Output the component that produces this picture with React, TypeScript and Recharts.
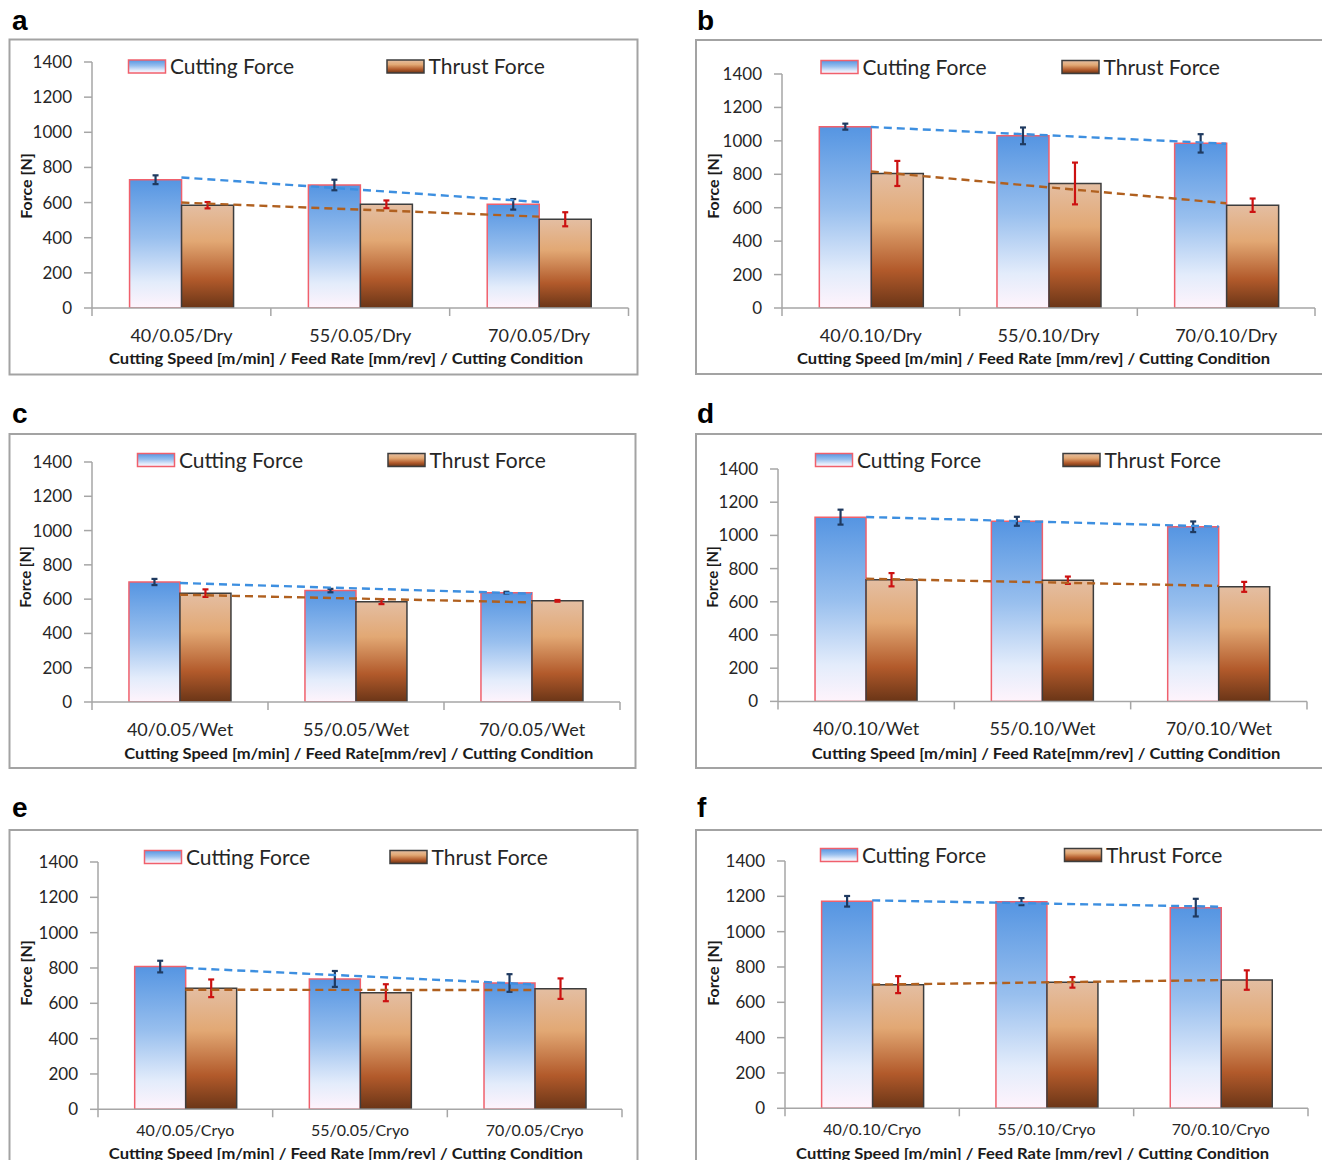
import React from 'react';
import { ComposedChart, Bar, Line, XAxis, YAxis, ErrorBar } from 'recharts';

// ---------- DATA ----------
const yTicks = [0, 200, 400, 600, 800, 1000, 1200, 1400];
const seriesNames = ['Cutting Force', 'Thrust Force'];

const categoriesA = ['40/0.05/Dry', '55/0.05/Dry', '70/0.05/Dry'];
const cuttingA = [730, 700, 590];
const cuttingErrA = [25, 30, 30];
const thrustA = [585, 590, 505];
const thrustErrA = [18, 22, 40];
const cuttingTrendA = [743, null, 603];
const thrustTrendA = [600, null, 520];

const categoriesB = ['40/0.10/Dry', '55/0.10/Dry', '70/0.10/Dry'];
const cuttingB = [1085, 1030, 985];
const cuttingErrB = [18, 50, 55];
const thrustB = [805, 745, 615];
const thrustErrB = [75, 125, 40];
const cuttingTrendB = [1083, null, 983];
const thrustTrendB = [817, null, 627];

const categoriesC = ['40/0.05/Wet', '55/0.05/Wet', '70/0.05/Wet'];
const cuttingC = [700, 650, 638];
const cuttingErrC = [18, 10, 5];
const thrustC = [635, 585, 590];
const thrustErrC = [22, 14, 5];
const cuttingTrendC = [694, null, 632];
const thrustTrendC = [626, null, 581];

const categoriesD = ['40/0.10/Wet', '55/0.10/Wet', '70/0.10/Wet'];
const cuttingD = [1110, 1085, 1052];
const cuttingErrD = [45, 27, 32];
const thrustD = [733, 730, 690];
const thrustErrD = [40, 22, 30];
const cuttingTrendD = [1111, null, 1053];
const thrustTrendD = [739, null, 696];

const categoriesE = ['40/0.05/Cryo', '55/0.05/Cryo', '70/0.05/Cryo'];
const cuttingE = [808, 738, 715];
const cuttingErrE = [33, 45, 50];
const thrustE = [685, 660, 683];
const thrustErrE = [50, 48, 58];
const cuttingTrendE = [800, null, 707];
const thrustTrendE = [677, null, 675];

const categoriesF = ['40/0.10/Cryo', '55/0.10/Cryo', '70/0.10/Cryo'];
const cuttingF = [1172, 1170, 1136];
const cuttingErrF = [30, 20, 50];
const thrustF = [700, 713, 726];
const thrustErrF = [48, 30, 55];
const cuttingTrendF = [1177, null, 1141];
const thrustTrendF = [700, null, 726];

const titleSpaced = 'Cutting Speed [m/min] / Feed Rate [mm/rev] / Cutting Condition';
const titleTight = 'Cutting Speed [m/min] / Feed Rate[mm/rev] / Cutting Condition';
const yTitle = 'Force [N]';

// ---------- LAYOUT ----------
const FONT = 'Lato, "Open Sans", sans-serif';

const panels = [
  {
    id: 'a', cats: categoriesA, cut: cuttingA, cutErr: cuttingErrA, thr: thrustA, thrErr: thrustErrA,
    cutTrend: cuttingTrendA, thrTrend: thrustTrendA, xTitle: titleSpaced,
    plot: { l: 91.5, t: 62, r: 628, b: 308 },
    box: { x: 9.5, y: 39.5, w: 628, h: 335 },
    letter: { x: 12, y: 30 },
    legend: { cutX: 128.5, thrX: 387, y: 60 },
    yT: { x: 25, y: 186, size: 16 },
    xT: { x: 346, y: 363.5, w: 474 },
    xTick: { size: 18, base: 34 },
  },
  {
    id: 'b', cats: categoriesB, cut: cuttingB, cutErr: cuttingErrB, thr: thrustB, thrErr: thrustErrB,
    cutTrend: cuttingTrendB, thrTrend: thrustTrendB, xTitle: titleSpaced,
    plot: { l: 781.5, t: 74, r: 1314.5, b: 308 },
    box: { x: 696, y: 40, w: 640, h: 334 },
    letter: { x: 697, y: 30 },
    legend: { cutX: 821, thrX: 1062, y: 60.5 },
    yT: { x: 712.5, y: 186, size: 16 },
    xT: { x: 1033.5, y: 363.5, w: 473 },
    xTick: { size: 18, base: 34 },
  },
  {
    id: 'c', cats: categoriesC, cut: cuttingC, cutErr: cuttingErrC, thr: thrustC, thrErr: thrustErrC,
    cutTrend: cuttingTrendC, thrTrend: thrustTrendC, xTitle: titleTight,
    plot: { l: 91.5, t: 461.7, r: 619.5, b: 701.7 },
    box: { x: 9.5, y: 434, w: 626, h: 334 },
    letter: { x: 12, y: 423 },
    legend: { cutX: 137.5, thrX: 388, y: 453.5 },
    yT: { x: 24.5, y: 577, size: 15 },
    xT: { x: 358.8, y: 759, w: 469 },
    xTick: { size: 18, base: 33.5 },
  },
  {
    id: 'd', cats: categoriesD, cut: cuttingD, cutErr: cuttingErrD, thr: thrustD, thrErr: thrustErrD,
    cutTrend: cuttingTrendD, thrTrend: thrustTrendD, xTitle: titleTight,
    plot: { l: 777.5, t: 469.3, r: 1306.5, b: 701.7 },
    box: { x: 696, y: 434, w: 640, h: 334 },
    letter: { x: 697, y: 423 },
    legend: { cutX: 815.5, thrX: 1063, y: 453.5 },
    yT: { x: 711.5, y: 577, size: 15 },
    xT: { x: 1046, y: 759, w: 468.5 },
    xTick: { size: 18, base: 33.5 },
  },
  {
    id: 'e', cats: categoriesE, cut: cuttingE, cutErr: cuttingErrE, thr: thrustE, thrErr: thrustErrE,
    cutTrend: cuttingTrendE, thrTrend: thrustTrendE, xTitle: titleSpaced,
    plot: { l: 98, t: 861.7, r: 622, b: 1109 },
    box: { x: 9.5, y: 830, w: 628, h: 360 },
    letter: { x: 12, y: 816.7 },
    legend: { cutX: 144.5, thrX: 390, y: 850.5 },
    yT: { x: 25, y: 973, size: 16 },
    xT: { x: 345.8, y: 1158.5, w: 474 },
    xTick: { size: 16, base: 26.5 },
  },
  {
    id: 'f', cats: categoriesF, cut: cuttingF, cutErr: cuttingErrF, thr: thrustF, thrErr: thrustErrF,
    cutTrend: cuttingTrendF, thrTrend: thrustTrendF, xTitle: titleSpaced,
    plot: { l: 785, t: 861, r: 1308, b: 1108.3 },
    box: { x: 696, y: 830, w: 640, h: 360 },
    letter: { x: 697, y: 816.7 },
    legend: { cutX: 820.5, thrX: 1064.5, y: 848.5 },
    yT: { x: 712.5, y: 973, size: 16 },
    xT: { x: 1032.6, y: 1158.5, w: 473 },
    xTick: { size: 16, base: 26.5 },
  },
];

const CUT_STROKE = '#f0606c';
const THR_STROKE = '#3d3d3d';
const AXIS = '#a6a6a6';
const TEXT = '#262626';

function Gradients({ id }: { id: string }) {
  return (
    <defs>
      <linearGradient id={`cutGrad${id}`} x1="0" y1="0" x2="0" y2="1">
        <stop offset="0" stopColor="#5595e2" />
        <stop offset="0.45" stopColor="#98bfee" />
        <stop offset="0.8" stopColor="#e3ecfb" />
        <stop offset="1" stopColor="#fff4fc" />
      </linearGradient>
      <linearGradient id={`thrGrad${id}`} x1="0" y1="0" x2="0" y2="1">
        <stop offset="0" stopColor="#e4bea2" />
        <stop offset="0.35" stopColor="#e2a874" />
        <stop offset="0.72" stopColor="#b25a2b" />
        <stop offset="1" stopColor="#6a3517" />
      </linearGradient>
    </defs>
  );
}

// Category tick: label at the category centre plus Excel-style tick marks
// on the category boundaries (half a band either side of the centre).
function CategoryTick(props: any) {
  const { x, y, payload, index, visibleTicksCount, fontSize, base, fallbackHalf } = props;
  const half = payload && typeof payload.offset === 'number' && payload.offset > 0 ? payload.offset : fallbackHalf;
  const isLast = index === (visibleTicksCount ?? 3) - 1;
  return (
    <g>
      <line x1={x - half} x2={x - half} y1={y} y2={y + 8} stroke={AXIS} strokeWidth={1.5} />
      {isLast && <line x1={x + half} x2={x + half} y1={y} y2={y + 8} stroke={AXIS} strokeWidth={1.5} />}
      <text x={x} y={y + base} textAnchor="middle" fontSize={fontSize} fontFamily={FONT} fill={TEXT}>
        {payload.value}
      </text>
    </g>
  );
}

function Panel({ p }: { p: any }) {
  const data = p.cats.map((c: string, i: number) => ({
    cat: c,
    cut: p.cut[i],
    cutErr: p.cutErr[i],
    thr: p.thr[i],
    thrErr: p.thrErr[i],
    cutTrend: p.cutTrend[i],
    thrTrend: p.thrTrend[i],
  }));
  const padL = 80, padT = 10, padR = 10, padB = 50;
  const yAxisW = 60;
  const catH = 40;
  const left = p.plot.l - padL;
  const top = p.plot.t - padT;
  const width = p.plot.r - p.plot.l + padL + padR;
  const height = p.plot.b - p.plot.t + padT + padB;
  const fallbackHalf = (p.plot.r - p.plot.l) / p.cats.length / 2;
  return (
    <div style={{ position: 'absolute', left, top, width, height }}>
      <ComposedChart
        width={width}
        height={height}
        data={data}
        margin={{ top: padT, right: padR, left: padL - yAxisW, bottom: padB - catH }}
        barCategoryGap="21%"
        barGap={0}
      >
        <Gradients id={p.id} />
        <XAxis
          dataKey="cat"
          type="category"
          axisLine={{ stroke: AXIS, strokeWidth: 1.5 }}
          tickLine={false}
          tickSize={0}
          tickMargin={0}
          height={catH}
          interval={0}
          tick={<CategoryTick fontSize={p.xTick.size} base={p.xTick.base} fallbackHalf={fallbackHalf} />}
        />
        <YAxis
          type="number"
          domain={[0, 1400]}
          ticks={yTicks}
          interval={0}
          allowDataOverflow
          width={yAxisW}
          tickSize={8}
          tickMargin={12}
          axisLine={{ stroke: AXIS, strokeWidth: 1.5 }}
          tickLine={{ stroke: AXIS, strokeWidth: 1.5 }}
          tick={{ fill: TEXT, fontSize: 17, fontFamily: FONT }}
        />
        <Bar
          dataKey="cut"
          name={seriesNames[0]}
          fill={`url(#cutGrad${p.id})`}
          stroke={CUT_STROKE}
          strokeWidth={1.5}
          isAnimationActive={false}
        >
          <ErrorBar dataKey="cutErr" width={3} stroke="#1f3a60" strokeWidth={2.2} />
        </Bar>
        <Bar
          dataKey="thr"
          name={seriesNames[1]}
          fill={`url(#thrGrad${p.id})`}
          stroke={THR_STROKE}
          strokeWidth={1.5}
          isAnimationActive={false}
        >
          <ErrorBar dataKey="thrErr" width={3} stroke="#cc1111" strokeWidth={2.2} />
        </Bar>
        <Line
          dataKey="cutTrend"
          stroke="#3d8fe0"
          strokeWidth={2.4}
          strokeDasharray="8 5"
          dot={false}
          activeDot={false}
          connectNulls
          isAnimationActive={false}
        />
        <Line
          dataKey="thrTrend"
          stroke="#b0601f"
          strokeWidth={2.4}
          strokeDasharray="8 5"
          dot={false}
          activeDot={false}
          connectNulls
          isAnimationActive={false}
        />
      </ComposedChart>
    </div>
  );
}

function Overlay() {
  return (
    <svg
      width={1322}
      height={1160}
      style={{ position: 'absolute', left: 0, top: 0, pointerEvents: 'none' }}
    >
      <Gradients id="legend" />
      {panels.map((p) => (
        <g key={p.id}>
          <rect x={p.box.x} y={p.box.y} width={p.box.w} height={p.box.h} fill="none" stroke="#a3a3a3" strokeWidth={2} />
          <text x={p.letter.x} y={p.letter.y} fontFamily='"Liberation Sans", Arial, sans-serif' fontWeight="bold" fontSize={28} fill="#000">
            {p.id}
          </text>
          <rect x={p.legend.cutX} y={p.legend.y} width={37} height={13} fill="url(#cutGradlegend)" stroke={CUT_STROKE} strokeWidth={1.5} />
          <text x={p.legend.cutX + 41.5} y={p.legend.y + 14} fontFamily={FONT} fontSize={21} fill={TEXT}>
            {seriesNames[0]}
          </text>
          <rect x={p.legend.thrX} y={p.legend.y} width={37} height={13} fill="url(#thrGradlegend)" stroke={THR_STROKE} strokeWidth={1.5} />
          <text x={p.legend.thrX + 41.5} y={p.legend.y + 14} fontFamily={FONT} fontSize={21} fill={TEXT}>
            {seriesNames[1]}
          </text>
          <text
            x={p.yT.x}
            y={p.yT.y}
            transform={`rotate(-90 ${p.yT.x} ${p.yT.y})`}
            textAnchor="middle"
            dominantBaseline="central"
            fontFamily={FONT}
            fontWeight="bold"
            fontSize={p.yT.size}
            fill="#1a1a1a"
          >
            {yTitle}
          </text>
          <text
            x={p.xT.x}
            y={p.xT.y}
            textAnchor="middle"
            fontFamily={FONT}
            fontWeight="bold"
            fontSize={16}
            textLength={p.xT.w}
            lengthAdjust="spacingAndGlyphs"
            fill="#1a1a1a"
          >
            {p.xTitle}
          </text>
        </g>
      ))}
    </svg>
  );
}

export default function App() {
  return (
    <div
      style={{
        position: 'absolute',
        left: 0,
        top: 0,
        width: 1322,
        height: 1160,
        overflow: 'hidden',
        background: '#ffffff',
        fontFamily: FONT,
      }}
    >
      {panels.map((p) => (
        <Panel key={p.id} p={p} />
      ))}
      <Overlay />
    </div>
  );
}
